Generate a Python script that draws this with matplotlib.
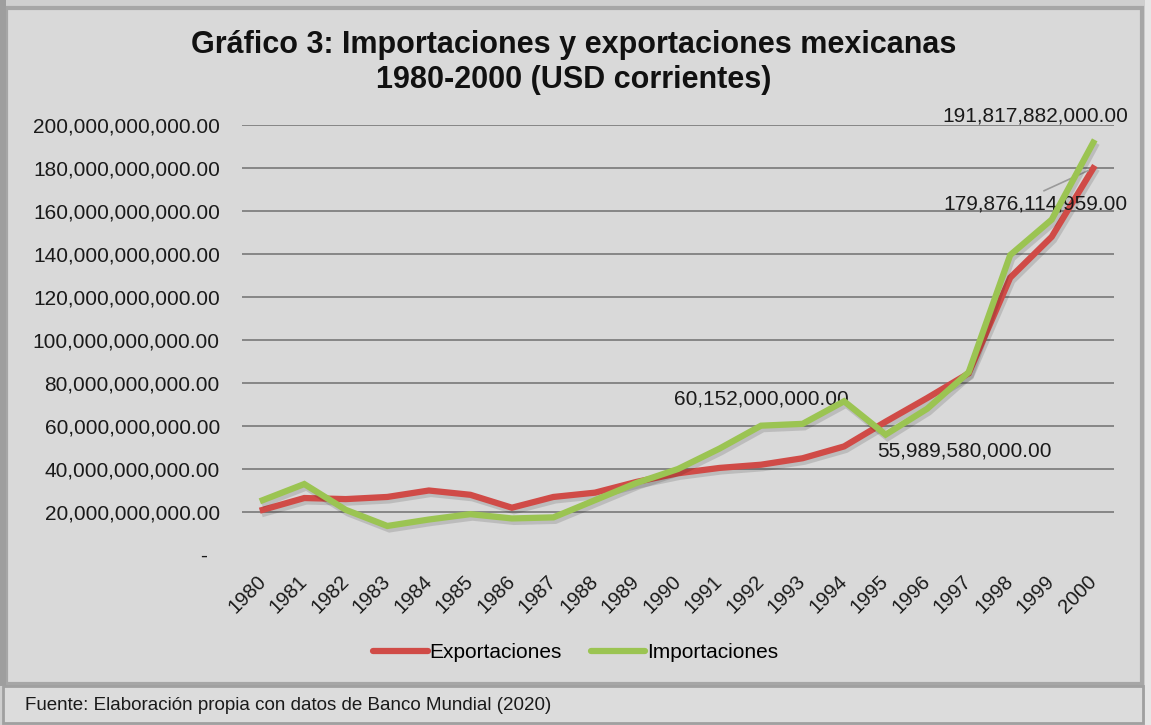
import matplotlib
matplotlib.use("Agg")
import matplotlib.pyplot as plt
import matplotlib.patheffects as pe
from matplotlib.lines import Line2D
from matplotlib.patches import Rectangle
from matplotlib.ticker import FuncFormatter

# data (billions of current USD)
years = [str(y) for y in range(1980, 2001)]
exportaciones = [21.0, 26.5, 26.0, 27.0, 30.0, 28.0, 22.0, 27.0, 29.0, 34.0, 38.0,
                 40.5, 42.0, 45.0, 50.5, 62.0, 73.0, 84.5, 129.0, 148.0, 179.876114959]
importaciones = [25.5, 33.0, 21.0, 13.5, 16.5, 19.0, 17.0, 17.5, 25.5, 33.5, 40.0,
                 49.5, 60.152, 61.0, 71.5, 55.98958, 68.0, 85.0, 139.5, 156.0, 191.817882]

W, H = 1151, 725
plt.rcParams["font.family"] = ["Liberation Sans", "DejaVu Sans"]
fig = plt.figure(figsize=(W / 100, H / 100), dpi=100, facecolor="#CFCFCF")


def fx(px):
    return px / W


def fy(py):
    return 1 - py / H


# chart frame and footer box
fig.patches.append(Rectangle((fx(6), fy(684)), fx(1136), 676 / H, transform=fig.transFigure,
                             facecolor="#D9D9D9", edgecolor="#A6A6A6", lw=3, zorder=-2))
fig.patches.append(Rectangle((fx(0), fy(686)), fx(6), 686 / H, transform=fig.transFigure,
                             facecolor="#9E9E9E", edgecolor="none", zorder=-2))
fig.patches.append(Rectangle((fx(1145), fy(725)), fx(6), 1, transform=fig.transFigure,
                             facecolor="#E6E6E6", edgecolor="none", zorder=-2))
fig.patches.append(Rectangle((fx(3), fy(723)), fx(1140), 37 / H, transform=fig.transFigure,
                             facecolor="#DCDCDC", edgecolor="#A0A0A0", lw=2, zorder=-2))

ax = fig.add_axes([fx(242), fy(555), fx(1114 - 242), (555 - 125) / H])
ax.set_facecolor("none")

x = list(range(len(years)))
red = "#D04B47"
green = "#9BC452"
shadow = [pe.SimpleLineShadow(offset=(1.5, -2.5), shadow_color="black", alpha=0.13), pe.Normal()]
ax.plot(x, [v * 1e9 for v in exportaciones], color=red, lw=4.5,
        path_effects=shadow, solid_joinstyle="miter", zorder=3)
ax.plot(x, [v * 1e9 for v in importaciones], color=green, lw=4.5,
        path_effects=shadow, solid_joinstyle="miter", zorder=4)

ax.set_xlim(-0.5, len(years) - 0.5)
ax.set_ylim(0, 200e9)
ax.set_yticks([i * 20e9 for i in range(11)])
ax.yaxis.set_major_formatter(FuncFormatter(lambda v, p: "-  " if v == 0 else f"{v:,.2f}"))
ax.set_xticks(x)
ax.set_xticklabels(years, rotation=45, ha="right", va="center", rotation_mode="anchor")
ax.tick_params(axis="y", length=0, pad=16, labelsize=15, labelcolor="#1A1A1A")
ax.tick_params(axis="x", length=0, pad=17, labelsize=14.5, labelcolor="#1A1A1A")
for s in ax.spines.values():
    s.set_visible(False)
ax.grid(axis="y", color="#808080", lw=1.3)
ax.set_axisbelow(True)
ax.get_ygridlines()[0].set_visible(False)

# data labels
def lab(v):
    return f"{round(v * 1e9):,.2f}"

ann = dict(fontsize=15, color="#1A1A1A", ha="center", va="center", textcoords="offset pixels")
ax.annotate(lab(importaciones[20]), xy=(20, importaciones[20] * 1e9), xytext=(-58, 27), **ann)
ax.annotate(lab(exportaciones[20]), xy=(20, exportaciones[20] * 1e9), xytext=(-58, -36),
            arrowprops=dict(arrowstyle="-", color="#9A9A9A", lw=1.2, relpos=(0.5, 1.0),
                            shrinkA=2, shrinkB=4), **ann)
ax.annotate(lab(importaciones[12]), xy=(12, importaciones[12] * 1e9), xytext=(0, 27), **ann)
ax.annotate(lab(importaciones[15]), xy=(15, importaciones[15] * 1e9), xytext=(79, -16), **ann)

# title
fig.text(fx(574), fy(45), "Gráfico 3: Importaciones y exportaciones mexicanas",
         ha="center", va="center", fontsize=22, fontweight="bold", color="#111111")
fig.text(fx(574), fy(80), "1980-2000 (USD corrientes)",
         ha="center", va="center", fontsize=22, fontweight="bold", color="#111111")

# legend
handles = [Line2D([], [], color=red, lw=4.5, solid_capstyle="round"),
           Line2D([], [], color=green, lw=4.5, solid_capstyle="round")]
fig.legend(handles, ["Exportaciones", "Importaciones"], loc="center",
           bbox_to_anchor=(fx(576), fy(653)), ncol=2, frameon=False,
           fontsize=15, handlelength=2.6, handletextpad=0.1, columnspacing=1.4)

# footer
fig.text(fx(25), fy(705), "Fuente: Elaboración propia con datos de Banco Mundial (2020)",
         ha="left", va="center", fontsize=13.5, color="#1A1A1A")

fig.savefig("out.png", dpi=100, facecolor=fig.get_facecolor())
